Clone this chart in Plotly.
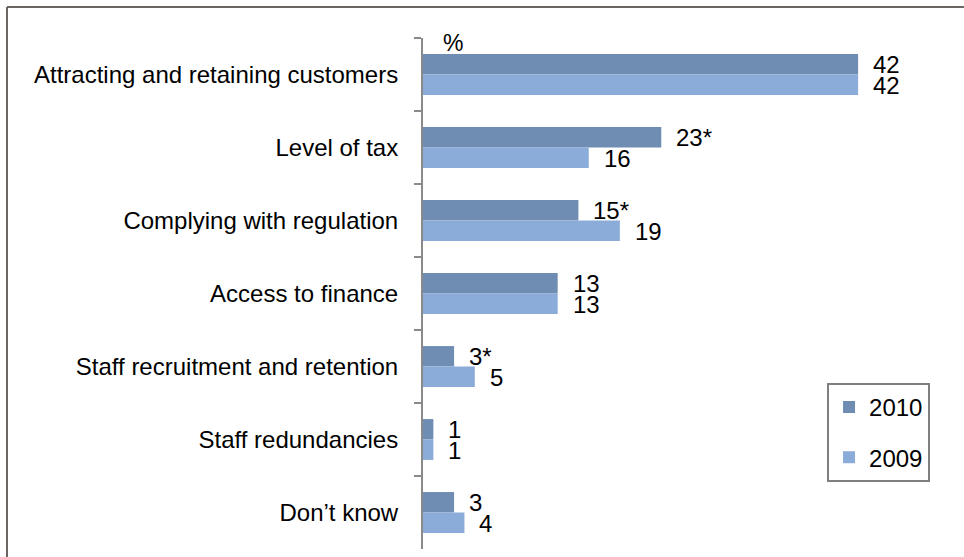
import plotly.graph_objects as go

# Survey categories (top to bottom) and percentages per year
categories = [
    "Attracting and retaining customers",
    "Level of tax",
    "Complying with regulation",
    "Access to finance",
    "Staff recruitment and retention",
    "Staff redundancies",
    "Don’t know",
]
values_2010 = [42, 23, 15, 13, 3, 1, 3]
values_2009 = [42, 16, 19, 13, 5, 1, 4]
# significant change vs previous year marked with an asterisk
significant_2010 = [False, True, True, False, True, False, False]

color_2010 = "#6F8CB3"
color_2009 = "#8BABD8"
axis_gray = "#8A8A8A"
frame_gray = "#6B6662"
font_family = "Arial, 'Liberation Sans', sans-serif"
font_size = 24

fig = go.Figure()
fig.add_trace(go.Bar(
    name="2010", y=categories, x=values_2010, orientation="h",
    marker=dict(color=color_2010, line=dict(width=0)),
    legendgroup="2010",
))
fig.add_trace(go.Bar(
    name="2009", y=categories, x=values_2009, orientation="h",
    marker=dict(color=color_2009, line=dict(width=0)),
    legendgroup="2009",
))

# value labels just past the end of each bar
annotations = []
for cat, v, sig in zip(categories, values_2010, significant_2010):
    annotations.append(dict(
        x=v, y=cat, xref="x", yref="y", text=f"{v}{'*' if sig else ''}",
        showarrow=False, xanchor="left", yanchor="middle",
        xshift=13, yshift=10, font=dict(size=font_size, color="black"),
    ))
for cat, v in zip(categories, values_2009):
    annotations.append(dict(
        x=v, y=cat, xref="x", yref="y", text=f"{v}",
        showarrow=False, xanchor="left", yanchor="middle",
        xshift=13, yshift=-11, font=dict(size=font_size, color="black"),
    ))
# unit label at the top of the axis
annotations.append(dict(
    x=0, y=1, xref="paper", yref="paper", text="%", showarrow=False,
    xanchor="left", yanchor="middle", xshift=18, yshift=-5,
    font=dict(size=23, color="black"),
))

fig.update_layout(
    width=964, height=557,
    margin=dict(l=423, r=23, t=38, b=8),
    paper_bgcolor="white", plot_bgcolor="white",
    font=dict(family=font_family, size=font_size, color="black"),
    barmode="group", bargap=0.44, bargroupgap=0,
    xaxis=dict(range=[0, 50], visible=False, showgrid=False, zeroline=False),
    yaxis=dict(
        range=[6.5, -0.5], showgrid=False, zeroline=False,
        showline=True, linecolor=axis_gray, linewidth=2,
        ticks="outside", tickson="boundaries", ticklen=7, tickwidth=2,
        tickcolor=axis_gray, ticklabelstandoff=18,
        tickfont=dict(size=font_size, color="black"),
    ),
    legend=dict(
        x=0.78, y=0.325, xanchor="left", yanchor="top",
        traceorder="grouped", tracegroupgap=16,
        bordercolor="#7F7F7F", borderwidth=2, bgcolor="white",
        font=dict(size=font_size, color="black"),
    ),
    annotations=annotations,
    shapes=[
        # outer chart frame (top and left edges visible)
        dict(type="line", xref="paper", yref="paper",
             x0=(7 - 423) / 518, x1=1.2, y0=(549 - 7) / 511, y1=(549 - 7) / 511,
             line=dict(color=frame_gray, width=2)),
        dict(type="line", xref="paper", yref="paper",
             x0=(7 - 423) / 518, x1=(7 - 423) / 518, y0=(549 - 7) / 511, y1=-0.2,
             line=dict(color=frame_gray, width=2)),
    ],
)

fig.write_html("out.html")
